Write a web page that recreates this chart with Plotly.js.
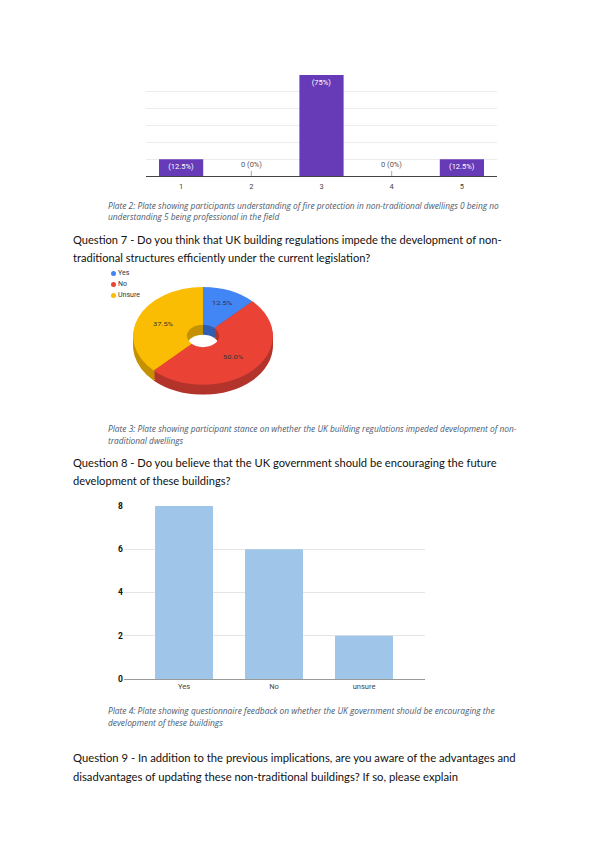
<!DOCTYPE html>
<html><head><meta charset="utf-8">
<script src="https://cdn.plot.ly/plotly-3.0.1.min.js"></script>
<style>
html,body{margin:0;padding:0;background:#fff;}
#page{position:relative;width:600px;height:848px;overflow:hidden;background:#fff;}
.abs{position:absolute;}
.q{font-family:Lato,'Noto Sans',sans-serif;color:#111;white-space:nowrap;}
.cap{font-family:'Open Sans',Lato,sans-serif;font-style:italic;color:#4a5a70;white-space:nowrap;}
.leg{font-family:Roboto,Arial,sans-serif;font-size:7px;color:#333;white-space:nowrap;}
</style></head>
<body><div id="page">
<div id="c1" class="abs" style="left:0;top:0;width:600px;height:200px;"></div>
<div id="pie" class="abs" style="left:132.5px;top:287px;width:140px;height:154.3px;transform:scaleY(0.7);transform-origin:0 0;"></div>
<div id="c3" class="abs" style="left:0;top:480px;width:600px;height:230px;"></div>
</div>
<script>
// ---- data ----
const q6Categories = ['1', '2', '3', '4', '5'];
const q6Counts = [1, 0, 6, 0, 1];
const q6Labels = ['(12.5%)', '0 (0%)', '(75%)', '0 (0%)', '(12.5%)'];

const q7Labels = ['Yes', 'No', 'Unsure'];
const q7Counts = [1, 4, 3];

const q8Categories = ['Yes', 'No', 'unsure'];
const q8Counts = [8, 6, 2];

const texts = {
  cap2: ['Plate 2: Plate showing participants understanding of fire protection in non-traditional dwellings 0 being no',
         'understanding 5 being professional in the field'],
  q7: ['Question 7 - Do you think that UK building regulations impede the development of non-',
       'traditional structures efficiently under the current legislation?'],
  cap3: ['Plate 3: Plate showing participant stance on whether the UK building regulations impeded development of non-',
         'traditional dwellings'],
  q8: ['Question 8 - Do you believe that the UK government should be encouraging the future',
       'development of these buildings?'],
  cap4: ['Plate 4: Plate showing questionnaire feedback on whether the UK government should be encouraging the',
         'development of these buildings'],
  q9: ['Question 9 - In addition to the previous implications, are you aware of the advantages and',
       'disadvantages of updating these non-traditional buildings? If so, please explain']
};

// ---- text blocks ----
const page = document.getElementById('page');
function block(lines, cls, x, yc, gap, targetW, lh) {
  const probe = document.createElement('span');
  probe.className = cls; probe.style.fontSize = '20px'; probe.style.position = 'absolute';
  probe.style.visibility = 'hidden'; probe.textContent = lines[0];
  page.appendChild(probe);
  const fs = 20 * targetW / probe.getBoundingClientRect().width;
  page.removeChild(probe);
  lines.forEach((t, i) => {
    const d = document.createElement('div');
    d.className = 'abs ' + cls;
    d.style.left = x + 'px';
    d.style.top = (yc + i * gap - lh / 2) + 'px';
    d.style.height = lh + 'px';
    d.style.lineHeight = lh + 'px';
    d.style.fontSize = fs + 'px';
    d.textContent = t;
    page.appendChild(d);
  });
}
block(texts.cap2, 'cap', 108, 205, 11.5, 391, 11);
block(texts.q7, 'q', 73, 239.5, 18, 429, 17);
block(texts.cap3, 'cap', 108, 428.5, 11.5, 409, 11);
block(texts.q8, 'q', 73, 462, 18.5, 424, 17);
block(texts.cap4, 'cap', 108, 710.5, 11.5, 387, 11);
block(texts.q9, 'q', 73, 757, 19, 443, 17);

const cfg = {staticPlot: true, displayModeBar: false};

// ---- chart 1 : Q6 bar ----
const zeroIdx = q6Counts.map((v, i) => v === 0 ? i : -1).filter(i => i >= 0);
Plotly.newPlot('c1', [{
  type: 'bar', x: q6Categories, y: q6Counts, text: q6Labels.map((t, i) => q6Counts[i] > 0 ? t : ''),
  textposition: q6Counts.map(v => v > 0 ? 'inside' : 'none'),
  insidetextanchor: 'end', textangle: 0, constraintext: 'none', cliponaxis: false,
  insidetextfont: {color: '#ffffff', size: 7.5, family: 'Roboto, Arial'},
  marker: {color: '#673ab7'}, width: 0.63, hoverinfo: 'none'
}], {
  width: 600, height: 200, margin: {l: 146, r: 103, t: 75, b: 24},
  paper_bgcolor: 'rgba(0,0,0,0)', plot_bgcolor: 'rgba(0,0,0,0)', showlegend: false,
  xaxis: {type: 'category', showline: true, linecolor: '#444', linewidth: 1, ticks: '',
          ticklabelstandoff: 3,
          tickfont: {size: 7.5, color: '#444', family: 'Roboto, Arial'}, showgrid: false},
  yaxis: {range: [0, 6], dtick: 1, showticklabels: false, gridcolor: '#ececec', zeroline: false},
  shapes: zeroIdx.map(i => ({
    type: 'line', xref: 'x', yref: 'y', x0: i, x1: i, y0: 0, y1: 0.3,
    line: {color: '#aaaaaa', width: 1}
  })),
  annotations: zeroIdx.map(i => ({
    xref: 'x', yref: 'y', x: i, y: q6Counts[i], yanchor: 'bottom', yshift: 5, showarrow: false,
    text: q6Labels[i], font: {color: '#555555', size: 7.5, family: 'Roboto, Arial'}
  }))
}, cfg);

// ---- chart 2 : Q7 3D-style donut ----
const topCols = ['#4285f4', '#ea4335', '#fbbc04'];
const sideCols = ['#2f5fb3', '#b3342b', '#c49200'];
const H = 154.3, R = 140, depth = H - R;
const offs = [depth, 11, 8, 5, 2.5];
const pieTraces = offs.map(d => ({
  type: 'pie', labels: q7Labels, values: q7Counts, sort: false, direction: 'clockwise',
  hole: 0.23, textinfo: 'none', marker: {colors: sideCols, line: {width: 0}},
  domain: {x: [0, 1], y: [(depth - d) / H, (H - d) / H]}, hoverinfo: 'none', showlegend: false
}));
pieTraces.push({
  type: 'pie', labels: q7Labels, values: q7Counts, sort: false, direction: 'clockwise',
  hole: 0.23, texttemplate: '%{percent:.1%}', textposition: 'inside', insidetextorientation: 'horizontal',
  textfont: {size: 7.5, color: '#333', family: 'Roboto, Arial'},
  marker: {colors: topCols, line: {width: 0}},
  domain: {x: [0, 1], y: [depth / H, 1]}, hoverinfo: 'none', showlegend: false
});
Plotly.newPlot('pie', pieTraces, {
  width: 140, height: H, margin: {l: 0, r: 0, t: 0, b: 0},
  paper_bgcolor: 'rgba(0,0,0,0)', showlegend: false
}, cfg);

// legend for Q7
q7Labels.forEach((lab, i) => {
  const dot = document.createElement('div');
  dot.className = 'abs';
  Object.assign(dot.style, {left: '111px', top: (271 + i * 11) + 'px', width: '5px', height: '5px',
    borderRadius: '50%', background: topCols[i]});
  page.appendChild(dot);
  const t = document.createElement('div');
  t.className = 'abs leg';
  Object.assign(t.style, {left: '118px', top: (269 + i * 11) + 'px', lineHeight: '9px'});
  t.textContent = lab;
  page.appendChild(t);
});

// ---- chart 3 : Q8 bar ----
Plotly.newPlot('c3', [{
  type: 'bar', x: q8Categories, y: q8Counts, marker: {color: '#9fc5e8'}, width: 0.644, hoverinfo: 'none'
}], {
  width: 600, height: 230, margin: {l: 124, r: 175, t: 26, b: 31},
  paper_bgcolor: 'rgba(0,0,0,0)', plot_bgcolor: 'rgba(0,0,0,0)', showlegend: false,
  xaxis: {type: 'category', range: [-0.667, 2.678], showline: true, linecolor: '#999', linewidth: 1,
          ticks: '', tickfont: {size: 7.5, color: '#444', family: 'Roboto, Arial'}, showgrid: false},
  yaxis: {range: [0, 8], dtick: 2, gridcolor: '#e4e4e4', zeroline: false, ticks: '',
          tickfont: {size: 8.5, color: '#111', family: 'Roboto, Arial', weight: 'bold'}}
}, cfg);
</script>
</body></html>
